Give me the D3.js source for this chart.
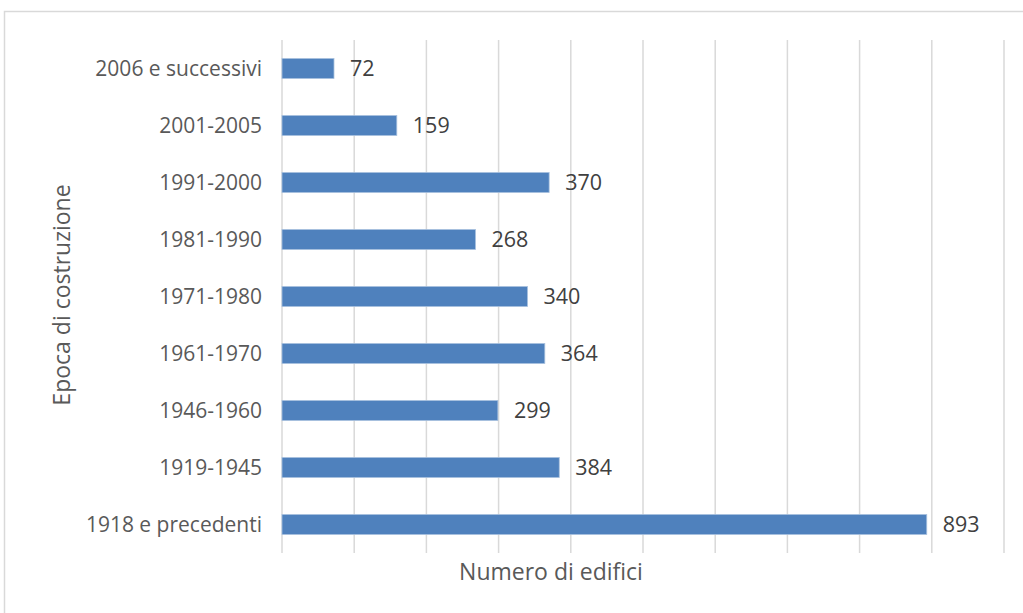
<!DOCTYPE html>
<html><head><meta charset="utf-8">
<script src="https://cdn.jsdelivr.net/npm/d3@7"></script>
<style>body{margin:0;background:#fff}svg{display:block}</style>
</head><body><svg id="c" width="1023" height="613"></svg>
<script>
const categories = ["2006 e successivi","2001-2005","1991-2000","1981-1990","1971-1980","1961-1970","1946-1960","1919-1945","1918 e precedenti"];
const values = [72,159,370,268,340,364,299,384,893];
const xTicks = [0,100,200,300,400,500,600,700,800,900,1000];
const xTitle = "Numero di edifici";
const yTitle = "Epoca di costruzione";

const svg = d3.select("#c");
const font = "'Open Sans', sans-serif";
svg.append("rect").attr("x",4.5).attr("y",11.5).attr("width",1030).attr("height",620)
  .attr("fill","#fff").attr("stroke","#d9d9d9").attr("stroke-width",1.5);

const x = d3.scaleLinear().domain([0,1000]).range([282,1004]);
const y = d3.scaleBand().domain(categories).range([40,553]).paddingInner(0.65).paddingOuter(0.325);

svg.append("g").selectAll("line").data(xTicks).join("line")
  .attr("x1",d=>x(d)).attr("x2",d=>x(d)).attr("y1",40).attr("y2",553)
  .attr("stroke","#d9d9d9").attr("stroke-width",1.5);

svg.append("g").selectAll("rect").data(values).join("rect")
  .attr("x",x(0)).attr("y",(d,i)=>y(categories[i]))
  .attr("width",d=>x(d)-x(0)).attr("height",y.bandwidth())
  .attr("fill","#4f81bd").attr("stroke","#a7c0de").attr("stroke-width",0.8);

svg.append("g").selectAll("text").data(values).join("text")
  .attr("x",d=>x(d)+16).attr("y",(d,i)=>y(categories[i])+y.bandwidth()/2)
  .attr("dy","0.36em").attr("font-family",font).attr("font-size",21.5).attr("fill","#404040")
  .text(d=>d);

svg.append("g").selectAll("text").data(categories).join("text")
  .attr("x",262).attr("y",d=>y(d)+y.bandwidth()/2).attr("dy","0.36em")
  .attr("text-anchor","end").attr("font-family",font).attr("font-size",21).attr("fill","#595959")
  .text(d=>d);

svg.append("text").attr("x",551).attr("y",572).attr("dy","0.36em").attr("text-anchor","middle")
  .attr("font-family",font).attr("font-size",23).attr("fill","#595959").text(xTitle);

svg.append("text").attr("transform","translate(62,295) rotate(-90)").attr("dy","0.36em").attr("text-anchor","middle")
  .attr("font-family",font).attr("font-size",23).attr("fill","#595959").text(yTitle);
</script></body></html>
